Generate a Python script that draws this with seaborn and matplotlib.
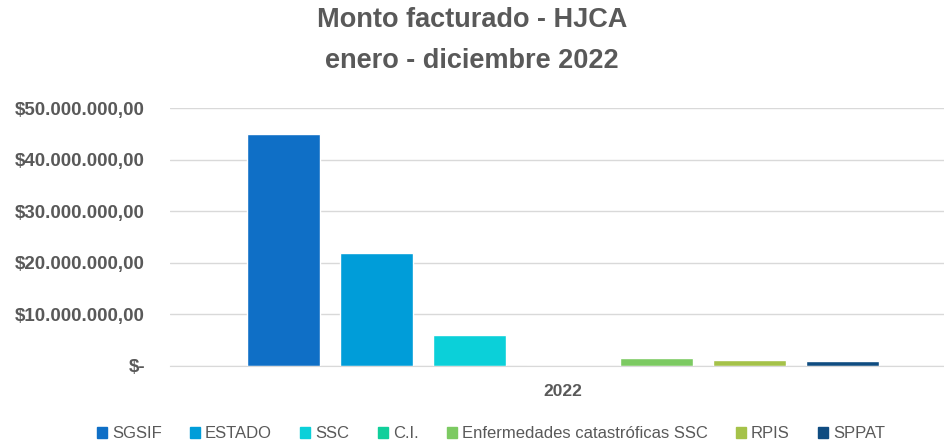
import matplotlib
matplotlib.use("Agg")
import matplotlib.pyplot as plt
import pandas as pd
import seaborn as sns
from matplotlib.ticker import FuncFormatter

# datos
categorias = ["SGSIF", "ESTADO", "SSC", "C.I.", "Enfermedades catastróficas SSC", "RPIS", "SPPAT"]
montos = [45000000, 21900000, 6000000, 0, 1600000, 1200000, 950000]
anio = ["2022"] * len(categorias)
colores = ["#0F6FC6", "#009DD9", "#0BD0D9", "#10CF9B", "#7CCA62", "#A5C249", "#0F4C81"]

df = pd.DataFrame({"Anio": anio, "Fuente": categorias, "Monto": montos})

sns.set_style("white")
plt.rcParams["font.family"] = ["Liberation Sans", "DejaVu Sans"]
gris = "#595959"

fig = plt.figure(figsize=(9.44, 4.43), dpi=100)
ax = fig.add_axes([0.18, 0.174, 0.833, 0.582])

sns.barplot(data=df, x="Anio", y="Monto", hue="Fuente", palette=colores,
            width=0.83, gap=0.215, ax=ax, legend=False, saturation=1)

ax.set_ylim(0, 50000000)
ax.set_yticks(range(0, 50000001, 10000000))


def formato(v, pos):
    if v == 0:
        return "$-"
    return "$" + f"{v:,.2f}".replace(",", "X").replace(".", ",").replace("X", ".")


ax.yaxis.set_major_formatter(FuncFormatter(formato))
ax.grid(axis="y", color="#D9D9D9", linewidth=1)
ax.set_axisbelow(True)
for lado in ["top", "right", "left"]:
    ax.spines[lado].set_visible(False)
ax.spines["bottom"].set_color("#D9D9D9")
ax.tick_params(axis="y", length=0, pad=18, labelsize=13.5, labelcolor=gris)
ax.tick_params(axis="x", length=0, pad=13, labelsize=12.5, labelcolor=gris)
for t in ax.get_yticklabels() + ax.get_xticklabels():
    t.set_fontweight("bold")
ax.set_xlabel("")
ax.set_ylabel("")

fig.suptitle("Monto facturado - HJCA\nenero - diciembre 2022", y=0.985,
             fontsize=19.5, fontweight="bold", color=gris, linespacing=1.75)

handles = [plt.Rectangle((0, 0), 1, 1, color=c) for c in colores]
fig.legend(handles, categorias, loc="lower center", bbox_to_anchor=(0.52, -0.03),
           ncol=len(categorias), frameon=False, fontsize=12, labelcolor=gris,
           handlelength=0.6, handleheight=0.6, handletextpad=0.3, columnspacing=1.7)

fig.savefig("out.png", dpi=100)
